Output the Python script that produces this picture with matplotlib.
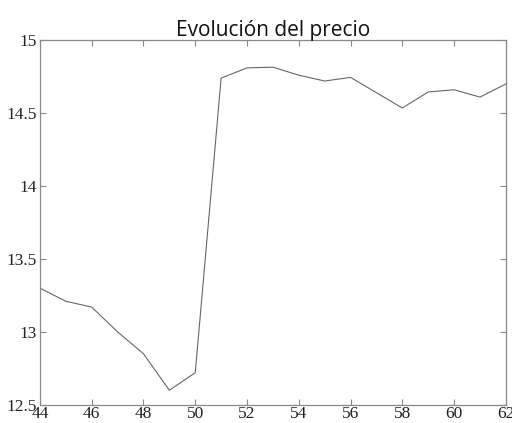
import numpy as np
import matplotlib
matplotlib.use("Agg")
import matplotlib.pyplot as plt

# years (x) and price (y)
years = [44, 45, 46, 47, 48, 49, 50, 51, 52, 53, 54, 55, 56, 57, 58, 59, 60, 61, 62]
price = [13.30, 13.21, 13.17, 13.00, 12.85, 12.60, 12.72, 14.74, 14.81, 14.815,
         14.76, 14.72, 14.745, 14.64, 14.535, 14.645, 14.66, 14.61, 14.70]
xticks = [44, 46, 48, 50, 52, 54, 56, 58, 60, 62]
yticks = [12.5, 13, 13.5, 14, 14.5, 15]
ytick_labels = ["12.5", "13", "13.5", "14", "14.5", "15"]

fig = plt.figure(figsize=(5.12, 4.23), dpi=100)
ax = fig.add_axes([0.078, 0.043, 0.910, 0.862])

ax.plot(years, price, color="#666666", linewidth=0.8)

ax.set_xlim(44, 62)
ax.set_ylim(12.5, 15)
ax.set_xticks(xticks)
ax.set_yticks(yticks)
ax.set_yticklabels(ytick_labels)

for s in ax.spines.values():
    s.set_color("#888888")
    s.set_linewidth(0.9)
ax.tick_params(direction="in", length=4, width=0.8, color="#888888",
               top=True, right=True, labelsize=12.5)
ax.tick_params(axis="x", pad=1)
ax.tick_params(axis="y", pad=2)
for lab in ax.get_xticklabels() + ax.get_yticklabels():
    lab.set_family("Liberation Serif")
    lab.set_color("#222222")

ax.set_title("Evolución del precio", family="Open Sans", fontsize=15,
             color="#111111", pad=3)

fig.savefig("out.png", dpi=100)
